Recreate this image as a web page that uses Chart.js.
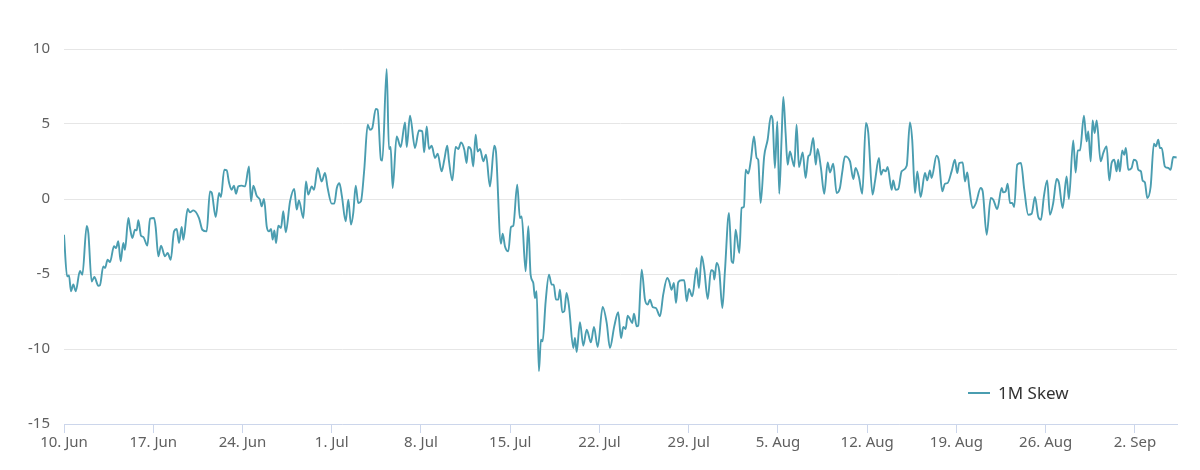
<!DOCTYPE html>
<html>
<head>
<meta charset="utf-8">
<script src="https://cdn.jsdelivr.net/npm/chart.js@4"></script>
<style>
  html, body { margin: 0; padding: 0; background: #fff; }
  #wrap { width: 1200px; height: 470px; }
</style>
</head>
<body>
<div id="wrap"><canvas id="chart" width="1200" height="470"></canvas></div>
<script>
// days since 10 Jun (x) and the 1M skew value
const tickLabels = ['10. Jun', '17. Jun', '24. Jun', '1. Jul', '8. Jul', '15. Jul', '22. Jul',
  '29. Jul', '5. Aug', '12. Aug', '19. Aug', '26. Aug', '2. Sep']
const yTicks = [-15, -10, -5, 0, 5, 10]

const days = [
  0.0, 0.24, 0.39, 0.55, 0.73, 0.92, 1.25, 1.44, 1.78, 1.91, 2.17, 2.38, 2.69, 2.82, 3.08, 3.22,
  3.42, 3.61, 3.92, 4.08, 4.26, 4.44, 4.65, 4.78, 5.05, 5.18, 5.36, 5.57, 5.7, 5.83, 6.04, 6.22,
  6.54, 6.75, 7.06, 7.19, 7.4, 7.61, 7.92, 8.13, 8.37, 8.63, 8.84, 9.02, 9.23, 9.36, 9.7, 9.88,
  10.14, 10.59, 10.85, 11.19, 11.45, 11.58, 11.9, 12.16, 12.31, 12.57, 12.76, 12.94, 13.15, 13.33,
  13.49, 13.67, 13.94, 14.2, 14.51, 14.67, 14.85, 15.11, 15.37, 15.5, 15.69, 15.9, 16.08, 16.24,
  16.37, 16.5, 16.63, 16.81, 17.02, 17.2, 17.39, 17.73, 18.06, 18.25, 18.43, 18.77, 18.98, 19.16,
  19.43, 19.61, 19.9, 20.21, 20.47, 20.68, 21.0, 21.2, 21.4, 21.6, 21.8,
  22.09, 22.3, 22.51, 22.69, 22.88, 23.08, 23.29, 23.55, 23.82, 24.0, 24.18, 24.45, 24.6, 24.86,
  24.97, 25.31, 25.49, 25.62, 25.78, 26.09, 26.41, 26.75, 26.88, 27.14, 27.53, 27.84, 28.1, 28.25,
  28.45, 28.63, 28.84, 29.1, 29.31, 29.62, 29.83, 30.06, 30.2, 30.46, 30.72, 30.93, 31.14, 31.4,
  31.58, 31.71, 31.92, 32.1, 32.29,
  32.44, 32.63, 32.89, 33.1, 33.41, 33.75, 33.88, 34.27, 34.41, 34.59, 34.85, 35.06, 35.24, 35.55,
  35.76, 35.9, 36.21, 36.42, 36.6, 36.81, 36.94, 37.07, 37.25, 37.41, 37.54, 37.78, 38.04, 38.25,
  38.41, 38.59, 38.77, 38.9, 39.08, 39.24, 39.42, 39.61, 39.95, 40.08, 40.21, 40.47, 40.73, 41.0,
  41.33, 41.57, 41.86, 42.25, 42.57, 42.82, 43.16, 43.47, 43.69,
  43.87, 44.05, 44.21, 44.39, 44.57, 44.71, 44.92, 45.04, 45.31, 45.57, 45.78, 45.96, 46.17, 46.43,
  46.75, 47.0, 47.32, 47.47, 47.66, 47.84, 48.0, 48.18, 48.45, 48.65, 48.84, 49.02, 49.28, 49.62,
  49.8, 50.02, 50.22, 50.49, 50.75, 50.93, 51.01, 51.19, 51.4, 51.64, 51.84, 52.16, 52.37, 52.5,
  52.68, 52.97, 53.15, 53.33, 53.47, 53.67, 53.88, 54.12, 54.33, 54.45, 54.64, 54.92,
  55.19, 55.45, 55.58, 55.76, 55.95, 56.1, 56.29, 56.42, 56.6, 56.76, 56.94, 57.12, 57.28, 57.46,
  57.65, 57.94, 58.17, 58.38, 58.51, 58.77, 58.96, 59.11, 59.37, 59.63, 59.9, 60.08, 60.34, 60.6,
  60.86, 61.04, 61.25, 61.65, 61.91, 62.09, 62.35, 62.61, 62.9, 63.08, 63.42, 63.61, 63.92, 64.08,
  64.26, 64.45, 64.6, 64.92, 65.04, 65.23, 65.44, 65.7, 66.1, 66.35, 66.53, 66.75, 66.93, 67.19,
  67.53, 67.71, 67.92, 68.05, 68.44, 68.63, 68.89, 69.1, 69.31, 69.62, 69.88, 70.06, 70.22,
  70.49, 70.67, 70.85, 71.0, 71.27, 71.53, 71.9, 72.06, 72.37, 72.69, 72.89, 73.2, 73.55, 73.67,
  73.86, 74.02, 74.2, 74.38, 74.53, 74.77, 75.06, 75.32, 75.63, 75.9, 76.16, 76.42, 76.63, 76.86,
  77.12, 77.33, 77.59, 77.86, 78.04, 78.33, 78.64, 78.82, 79.16, 79.35, 79.51, 79.69, 80.0, 80.21,
  80.34, 80.53, 80.68, 80.84, 81.0, 81.31, 81.52, 81.78, 81.99, 82.17, 82.38, 82.56, 82.69, 82.82,
  83.0, 83.16, 83.29, 83.48, 83.74, 83.92, 84.13, 84.26, 84.47, 84.6, 84.78, 84.97, 85.23, 85.49,
  85.65, 85.83, 85.96, 86.1, 86.35, 86.61, 86.8, 87.0, 87.27
]

const skew = [
  -2.38, -5.15, -5.1, -6.15, -5.7, -6.15, -4.8, -5.05, -1.8, -2.27, -5.5, -5.2, -5.78, -5.75, -4.5, -4.6,
  -4.05, -4.2, -3.15, -3.27, -2.82, -4.15, -2.93, -3.38, -1.27, -1.93, -2.6, -2.05, -2.09, -1.42, -2.45, -2.53,
  -3.1, -1.31, -1.27, -1.87, -3.82, -3.11, -3.82, -3.6, -4.05, -2.16, -2.0, -2.93, -1.87, -2.71, -0.67, -0.89,
  -0.76, -1.27, -2.05, -2.16, 0.51, 0.44, -1.2, 0.4, 0.13, 1.95, 1.91, 1.11, 0.62, 0.89,
  0.35, 0.84, 0.89, 0.84, 2.17, -0.16, 0.89, 0.22, -0.05, -0.49, 0.0, -1.82, -2.16, -2.0,
  -2.71, -2.09, -2.93, -1.78, -1.93, -0.82, -2.22, -0.16, 0.67, -0.71, -0.09, -1.27, 1.17, 0.29,
  0.84, 0.62, 2.07, 1.17, 1.73, 0.73, -0.31, -0.31, 0.73, 1.05, 0.18,
  -1.49, -0.05, -1.71, -0.93, 0.89, -0.27, -0.16, 1.95, 4.95, 4.62, 4.73, 6.0, 5.95, 2.62,
  2.57, 8.67, 3.33, 3.47, 0.73, 4.17, 3.47, 5.11, 3.47, 5.55, 3.4, 4.57, 4.51, 3.11,
  4.84, 3.33, 3.55, 2.73, 3.02, 1.84, 2.62, 3.55, 2.51, 1.24, 3.47, 3.33, 3.77, 3.29,
  2.4, 3.47, 3.29, 2.17, 4.29,
  3.17, 3.33, 2.51, 2.95, 0.84, 3.55, 3.17, -2.98, -2.31, -3.16, -3.49, -1.87, -1.78, 0.95,
  -1.27, -1.16, -4.82, -1.82, -5.05, -5.6, -6.6, -6.15, -11.47, -9.38, -9.49, -6.82, -5.04, -5.71,
  -5.71, -6.71, -6.71, -6.04, -7.55, -7.48, -6.27, -7.15, -9.93, -9.27, -10.2, -8.22, -9.78, -8.71,
  -9.56, -8.53, -9.87, -7.2, -8.27, -9.93, -8.49, -7.55, -9.27,
  -8.53, -8.67, -7.78, -8.0, -8.27, -7.65, -8.49, -8.44, -4.71, -6.71, -7.04, -6.71, -7.2, -7.27,
  -7.82, -6.38, -5.27, -5.49, -6.05, -5.6, -6.93, -5.55, -5.42, -5.42, -6.82, -6.0, -6.49, -4.6,
  -5.93, -3.82, -4.71, -6.66, -4.75, -4.82, -5.37, -4.26, -4.82, -7.27, -4.82, -0.93, -4.15, -4.27,
  -2.05, -3.6, -0.6, -0.53, 1.95, 1.69, 2.62, 4.17, 2.73, 2.62, -0.27, 2.84,
  3.95, 5.55, 5.29, 2.07, 5.17, 0.35, 4.17, 6.8, 4.4, 2.29, 3.17, 2.62, 2.17, 4.95,
  2.13, 3.11, 1.4, 2.84, 2.95, 4.07, 2.29, 3.33, 2.07, 0.35, 2.44, 1.77, 2.35, 0.4,
  0.73, 1.77, 2.84, 2.51, 1.33, 2.07, 1.47, 0.35, 5.07, 4.44, 0.29, 1.17, 2.73, 1.62,
  1.95, 1.84, 2.13, 0.62, 1.24, 0.62, 0.67, 1.84, 2.22, 5.11, 3.95, 0.4, 1.84, 0.13,
  1.73, 1.24, 1.91, 1.4, 2.88, 2.51, 0.51, 1.02, 1.07, 1.84, 2.62, 1.73, 2.4,
  2.44, 1.17, 1.77, 0.8, -0.6, -0.27, 0.73, 0.51, -2.38, 0.07, -0.05, -0.67, 0.73, 0.44,
  0.51, 1.02, -0.27, -0.27, -0.53, 2.29, 2.4, 0.62, -1.05, -0.98, 0.13, -1.2, -1.38, 0.18,
  1.24, -1.05, -0.27, 1.33, 1.07, -0.6, 1.51, 0.0, 3.91, 1.77, 3.24, 3.24, 5.55, 3.84,
  4.51, 2.51, 5.24, 4.4, 5.24, 2.51, 3.07, 3.51, 1.24, 2.4, 2.62, 1.84, 2.62, 1.84,
  3.24, 2.95, 3.4, 1.95, 2.07, 2.62, 2.51, 1.95, 1.84, 1.24, 1.11, 0.07, 0.8, 3.69,
  3.51, 3.95, 3.4, 3.4, 2.17, 2.07, 1.95, 2.8, 2.77
]

const seriesName = '1M Skew'
const lineColor = '#4a9db0'
const font = { family: '"Noto Sans", "Open Sans", sans-serif', size: 15 }

// legend in the lower right corner of the plot, like the original
const legendInside = {
  id: 'legendInside',
  afterDraw (chart) {
    const ctx = chart.ctx
    const area = chart.chartArea
    const x = area.right - 209
    const y = area.bottom - 31
    ctx.save()
    ctx.strokeStyle = lineColor
    ctx.lineWidth = 2
    ctx.beginPath()
    ctx.moveTo(x, y)
    ctx.lineTo(x + 22, y)
    ctx.stroke()
    ctx.fillStyle = '#333333'
    ctx.font = '17px ' + font.family
    ctx.textBaseline = 'middle'
    ctx.fillText(seriesName, x + 30, y + 1)
    ctx.restore()
  }
}

const points = days.map((d, i) => ({ x: d, y: skew[i] }))

new Chart(document.getElementById('chart'), {
  type: 'line',
  data: {
    datasets: [{
      label: seriesName,
      data: points,
      borderColor: lineColor,
      borderWidth: 1.9,
      pointRadius: 0,
      cubicInterpolationMode: 'monotone',
      fill: false
    }]
  },
  options: {
    responsive: false,
    devicePixelRatio: 1,
    animation: false,
    layout: { padding: { left: 0, right: 23, top: 49, bottom: 0 } },
    plugins: {
      legend: { display: false },
      tooltip: { enabled: false }
    },
    scales: {
      x: {
        type: 'linear',
        min: 0,
        max: 87.3,
        afterFit: s => { s.height = 46 },
        afterBuildTicks: s => { s.ticks = tickLabels.map((t, i) => ({ value: i * 7 })) },
        ticks: {
          color: '#606060',
          font,
          padding: 1,
          maxRotation: 0,
          autoSkip: false,
          callback: (v, i) => tickLabels[i]
        },
        grid: {
          drawOnChartArea: false,
          drawTicks: true,
          tickLength: 9,
          color: '#ccd6eb'
        },
        border: { color: '#ccd6eb', width: 1 }
      },
      y: {
        min: -15,
        max: 10,
        afterFit: s => { s.width = 64 },
        afterBuildTicks: s => { s.ticks = yTicks.map(v => ({ value: v })) },
        ticks: {
          color: '#606060',
          font,
          padding: 14
        },
        grid: {
          color: '#e6e6e6',
          drawTicks: false
        },
        border: { display: false }
      }
    }
  },
  plugins: [legendInside]
})
</script>
</body>
</html>
